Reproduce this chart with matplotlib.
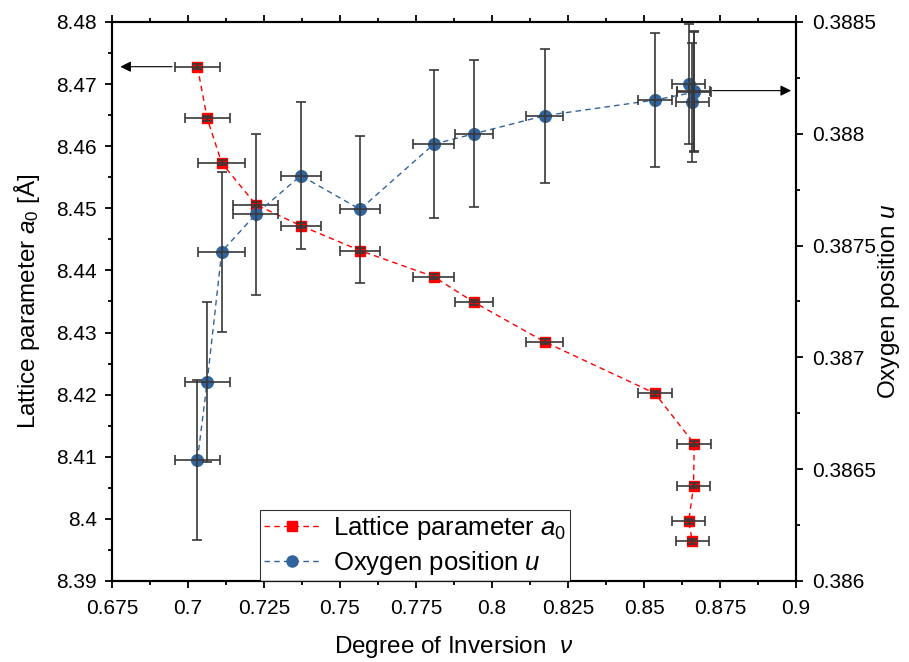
import matplotlib
matplotlib.use("Agg")
import matplotlib.pyplot as plt
from matplotlib.ticker import MultipleLocator
from matplotlib.lines import Line2D

plt.rcParams['font.family'] = ['Liberation Sans', 'DejaVu Sans']
plt.rcParams['mathtext.fontset'] = 'custom'
plt.rcParams['mathtext.rm'] = 'Liberation Sans'
plt.rcParams['mathtext.it'] = 'Liberation Sans:italic'

# degree of inversion and its error
nu = [0.7031, 0.7063, 0.7111, 0.7223, 0.7371, 0.7566, 0.7808, 0.7940,
      0.8173, 0.8536, 0.8665, 0.8663, 0.8647, 0.8659]
nu_err = [0.0074, 0.0074, 0.0078, 0.0074, 0.0066, 0.0066, 0.0067, 0.0063,
          0.0060, 0.0057, 0.0056, 0.0055, 0.0054, 0.0054]

# lattice parameter a0 (Angstrom)
a0 = [8.4728, 8.4645, 8.4573, 8.4506, 8.4472, 8.4432, 8.4390, 8.4349,
      8.4285, 8.4202, 8.4121, 8.4053, 8.3996, 8.3964]
a0_err = [0.0004] * 14

# oxygen position u
u = [0.386541, 0.386890, 0.387473, 0.387640, 0.387813, 0.387662, 0.387953,
     0.388000, 0.388081, 0.388151, 0.388186, 0.388191, 0.388223, 0.388141]
u_err = [0.000358, 0.000358, 0.000358, 0.000360, 0.000328, 0.000330, 0.000330,
         0.000329, 0.000299, 0.000299, 0.000268, 0.000268, 0.000268, 0.000266]

red = '#ff0000'
blue = '#31649c'
ecol = '#383838'
fs = 15
lfs = 17.5

fig = plt.figure(figsize=(9.09, 6.62), dpi=100)
ax = fig.add_axes([0.1232, 0.1224, 0.7525, 0.8444])
ax2 = ax.twinx()

# lattice parameter
ax.plot(nu, a0, ls=(0, (4, 3)), lw=1, color=red, marker='s', ms=6.5,
        mec=red, mfc=red, zorder=2)
ax.errorbar(nu, a0, xerr=nu_err, yerr=a0_err, fmt='none', ecolor=ecol,
            elinewidth=1.2, capsize=3.3, capthick=1.2, zorder=3)

# oxygen position
ax2.plot(nu, u, ls=(0, (4, 3)), lw=1, color=blue, marker='o', ms=8.4,
         mec=blue, mfc=blue, zorder=2)
ax2.errorbar(nu, u, xerr=nu_err, yerr=u_err, fmt='none', ecolor=ecol,
             elinewidth=1.2, capsize=3.3, capthick=1.2, zorder=3)

ax.set_xlim(0.675, 0.9)
ax.set_ylim(8.39, 8.48)
ax2.set_ylim(0.386, 0.3885)

ax.xaxis.set_major_locator(MultipleLocator(0.025))
ax.xaxis.set_minor_locator(MultipleLocator(0.0125))
ax.yaxis.set_major_locator(MultipleLocator(0.01))
ax.yaxis.set_minor_locator(MultipleLocator(0.005))
ax2.yaxis.set_major_locator(MultipleLocator(0.0005))
ax2.yaxis.set_minor_locator(MultipleLocator(0.00025))

ax.xaxis.set_major_formatter(plt.FuncFormatter(lambda x, p: f'{x:.4g}'))
ax.yaxis.set_major_formatter(plt.FuncFormatter(lambda x, p: f'{x:.4g}'))
ax2.yaxis.set_major_formatter(plt.FuncFormatter(lambda x, p: f'{x:.5g}'))

ax.tick_params(axis='both', which='major', direction='out', length=5.3,
               width=1.3, labelsize=fs, top=True)
ax.tick_params(axis='both', which='minor', direction='out', length=3,
               width=1.3, top=True)
ax.tick_params(axis='x', which='major', pad=7.5)
ax.tick_params(axis='y', which='major', pad=5.5)
ax2.tick_params(axis='y', which='major', direction='out', length=5.3,
                width=1.3, labelsize=fs, pad=6.2)
ax2.tick_params(axis='y', which='minor', direction='out', length=3, width=1.3)

for sp in list(ax.spines.values()) + list(ax2.spines.values()):
    sp.set_linewidth(1.5)

ax.set_xlabel(r'Degree of Inversion  $\nu$', fontsize=lfs, labelpad=12)
ax.set_ylabel(r'Lattice parameter $\mathit{a_0}$ [Å]', fontsize=lfs, labelpad=10)
ax2.set_ylabel(r'Oxygen position $\mathit{u}$', fontsize=lfs, labelpad=0)

# arrows pointing to the matching axis
ax.annotate('', xy=(0.6768, a0[0]), xytext=(nu[0] - nu_err[0], a0[0]),
            arrowprops=dict(arrowstyle='-|>', color='black', lw=0.8,
                            mutation_scale=16))
ax2.annotate('', xy=(0.8993, 0.388193), xytext=(max(nu) + nu_err[0] * 0.7, 0.388193),
             arrowprops=dict(arrowstyle='-|>', color='black', lw=0.8,
                             mutation_scale=16))

handles = [
    Line2D([], [], ls=(0, (4, 3)), lw=1, color=red, marker='s', ms=6.5),
    Line2D([], [], ls=(0, (4, 3)), lw=1, color=blue, marker='o', ms=8),
]
labels = [r'Lattice parameter $\mathit{a_0}$', r'Oxygen position $\mathit{u}$']
leg = ax2.legend(handles, labels, loc='lower left', bbox_to_anchor=(0.216, 0),
                 borderaxespad=0, fontsize=18.5, frameon=True, fancybox=False,
                 edgecolor='black', handlelength=2.2, handletextpad=0.5,
                 labelspacing=0.28, borderpad=0.15)
leg.get_frame().set_linewidth(0.8)
leg.set_zorder(10)

fig.savefig('out.png', dpi=100)
